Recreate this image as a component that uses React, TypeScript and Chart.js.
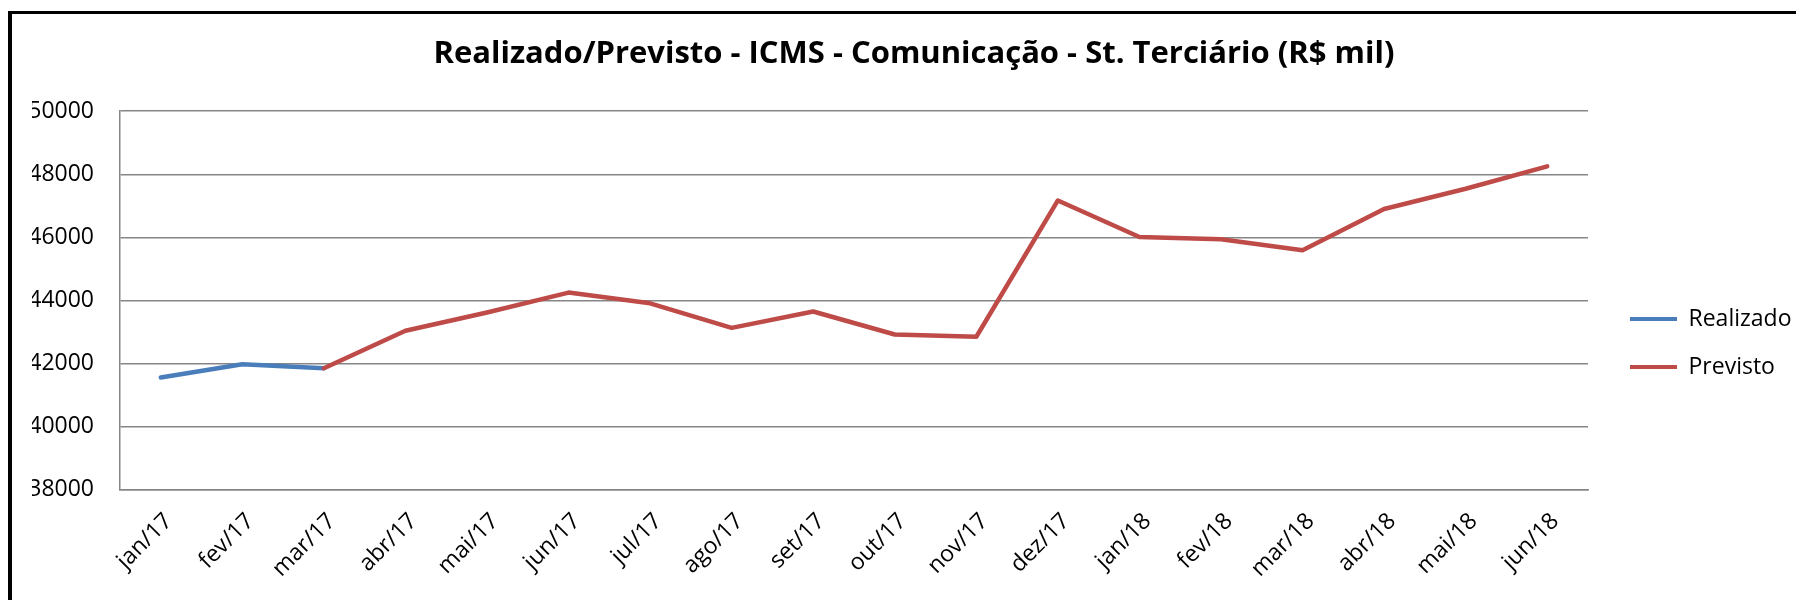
import React, { useEffect, useRef } from "react";
import { Chart, registerables } from "chart.js";

Chart.register(...registerables);

const categories = [
  "jan/17", "fev/17", "mar/17", "abr/17", "mai/17", "jun/17", "jul/17", "ago/17", "set/17",
  "out/17", "nov/17", "dez/17", "jan/18", "fev/18", "mar/18", "abr/18", "mai/18", "jun/18",
];

const realizado: (number | null)[] = [
  41560, 41980, 41850, null, null, null, null, null, null,
  null, null, null, null, null, null, null, null, null,
];

const previsto: (number | null)[] = [
  null, null, 41850, 43040, 43620, 44250, 43910, 43130, 43650,
  42920, 42850, 47170, 46010, 45940, 45590, 46900, 47540, 48250,
];

const yTicks = [38000, 40000, 42000, 44000, 46000, 48000, 50000];

const TITLE = "Realizado/Previsto - ICMS - Comunicação - St. Terciário (R$ mil)";
const FONT = "'Open Sans', sans-serif";
const BLUE = "#4A7EBB";
const RED = "#BE4B48";
const GRID = "#868686";

const LEGEND_WIDTH = 208;

const legendLayout = {
  id: "legendLayout",
  beforeLayout(chart: any) {
    const lg = chart.legend;
    if (lg && !lg.__patched) {
      const origFit = lg.fit.bind(lg);
      lg.fit = () => {
        origFit();
        lg.width = LEGEND_WIDTH;
      };
      lg.__patched = true;
    }
  },
  afterLayout(chart: any) {
    const lg = chart.legend;
    if (!lg) return;
    const dx = 17;
    const dy = 43;
    lg.left += dx;
    lg.right += dx;
    lg.top += dy;
    lg.bottom += dy;
  },
};

export default function App() {
  const canvasRef = useRef<HTMLCanvasElement | null>(null);

  useEffect(() => {
    if (!canvasRef.current) return;
    const chart = new Chart(canvasRef.current, {
      type: "line",
      data: {
        labels: categories,
        datasets: [
          {
            label: "Realizado",
            data: realizado,
            borderColor: BLUE,
            backgroundColor: BLUE,
            borderWidth: 4.5,
            pointRadius: 0,
            pointHoverRadius: 0,
            tension: 0,
            borderCapStyle: "round",
            borderJoinStyle: "round",
            spanGaps: false,
            order: 1,
          },
          {
            label: "Previsto",
            data: previsto,
            borderColor: RED,
            backgroundColor: RED,
            borderWidth: 4.5,
            pointRadius: 0,
            pointHoverRadius: 0,
            tension: 0,
            borderCapStyle: "round",
            borderJoinStyle: "round",
            spanGaps: false,
            order: 0,
          },
        ],
      },
      options: {
        animation: false,
        responsive: false,
        maintainAspectRatio: false,
        devicePixelRatio: 1,
        layout: { padding: { left: 32, right: 0, top: 0, bottom: 0 } },
        plugins: {
          title: {
            display: true,
            text: TITLE,
            color: "#000",
            font: { family: FONT, size: 31, weight: "bold", lineHeight: 1.2 },
            padding: { top: 36, bottom: 38 },
          },
          legend: {
            display: true,
            position: "right",
            labels: {
              boxWidth: 47,
              boxHeight: 4,
              padding: 25,
              color: "#000",
              font: { family: FONT, size: 23 },
              generateLabels: (chart: any) =>
                chart.data.datasets.map((ds: any, i: number) => ({
                  text: ds.label,
                  fillStyle: ds.borderColor,
                  strokeStyle: ds.borderColor,
                  lineWidth: 0,
                  hidden: false,
                  datasetIndex: i,
                  fontColor: "#000",
                })),
            },
          },
          tooltip: { enabled: false },
        },
        scales: {
          x: {
            type: "category",
            offset: true,
            grid: { display: false, drawTicks: false },
            border: { display: true, color: GRID, width: 1.5 },
            ticks: {
              color: "#000",
              font: { family: FONT, size: 23 },
              minRotation: 45,
              maxRotation: 45,
              autoSkip: false,
              padding: 18,
              labelOffset: 8,
            },
            afterFit: (scale: any) => {
              scale.height = 110.3;
            },
          },
          y: {
            type: "linear",
            min: 38000,
            max: 50000,
            afterBuildTicks: (scale: any) => {
              scale.ticks = yTicks.map((v) => ({ value: v }));
            },
            grid: { color: GRID, lineWidth: 1.5, drawTicks: false },
            border: { display: true, color: GRID, width: 1.5 },
            ticks: {
              color: "#000",
              font: { family: FONT, size: 23 },
              padding: 26,
              callback: (v: any) => String(v),
            },
            afterFit: (scale: any) => {
              scale.width = 88;
            },
          },
        },
      },
      plugins: [legendLayout],
    });
    return () => chart.destroy();
  }, []);

  return (
    <div
      style={{
        position: "fixed",
        left: 0,
        top: 0,
        width: 1796,
        height: 600,
        overflow: "hidden",
        background: "#fff",
      }}
    >
      <canvas
        ref={canvasRef}
        width={1796}
        height={600}
        style={{ position: "absolute", left: 0, top: 0, width: 1796, height: 600 }}
      />
      <div
        style={{
          position: "absolute",
          left: 8,
          top: 11,
          width: 1820,
          height: 640,
          borderLeft: "4px solid #000",
          borderTop: "3px solid #000",
          boxSizing: "border-box",
          pointerEvents: "none",
        }}
      />
    </div>
  );
}
